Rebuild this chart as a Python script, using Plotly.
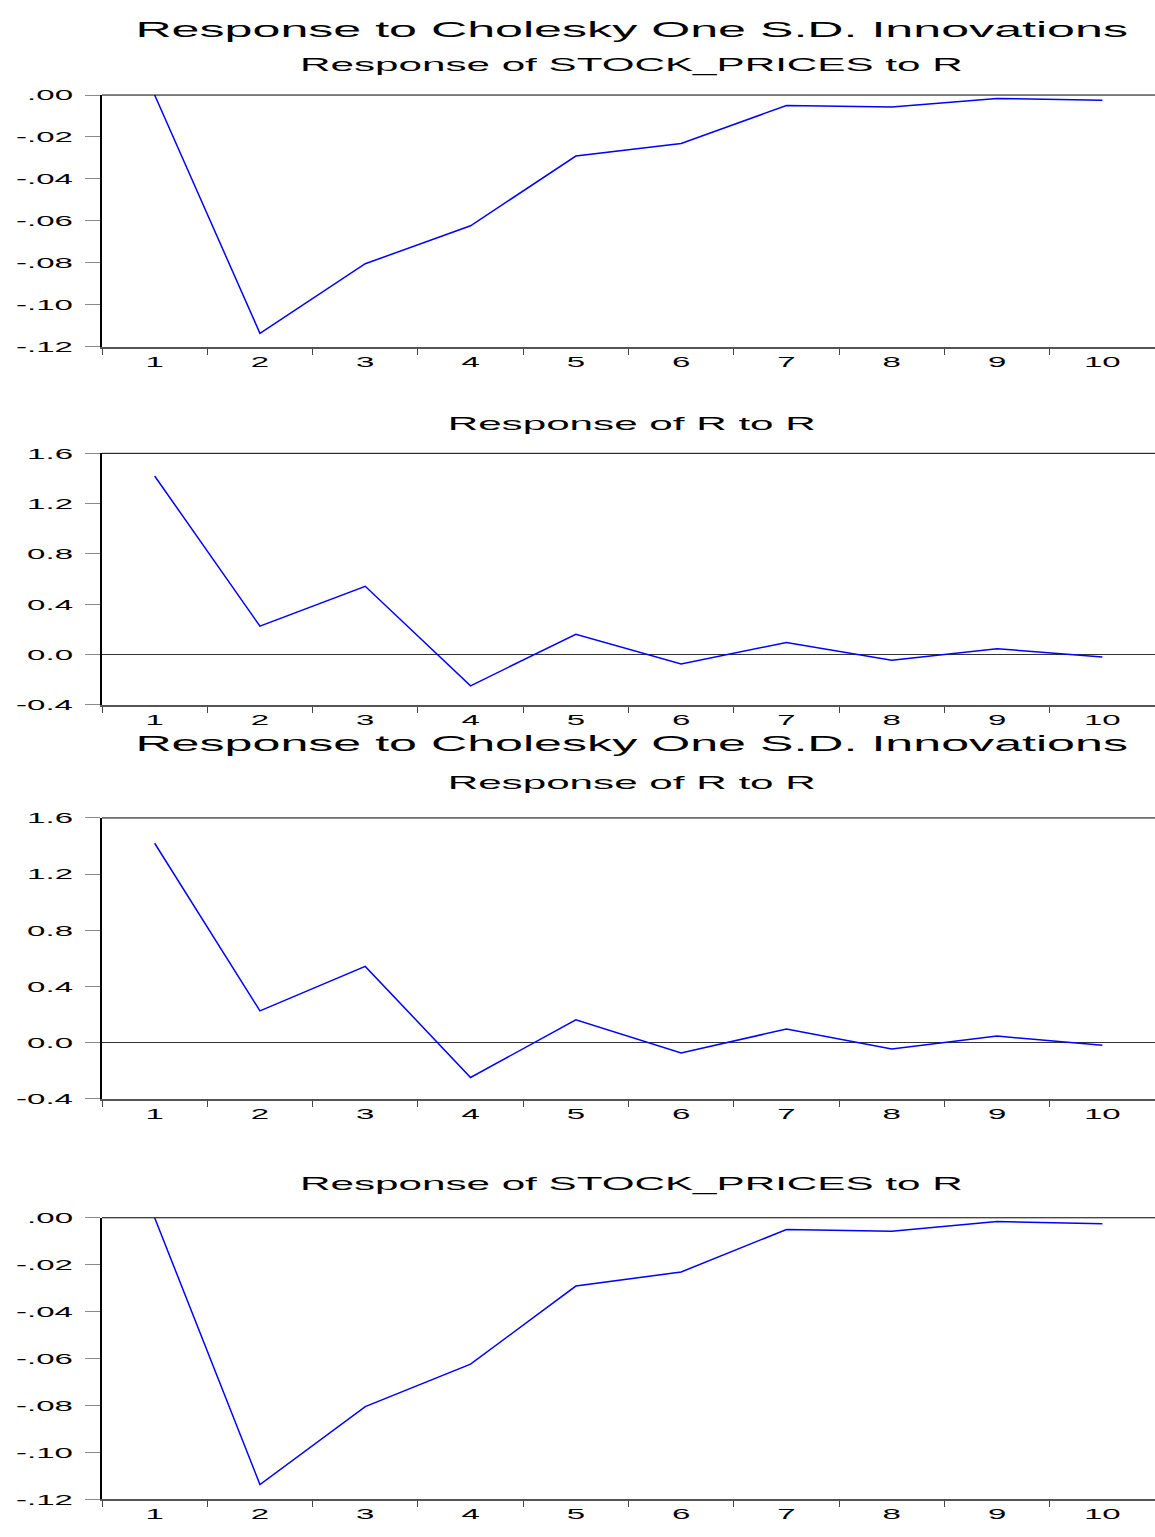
import plotly.graph_objects as go

# ---------------- data ----------------
periods = [str(i) for i in range(1, 11)]
stock_to_r = [0.000, -0.1137, -0.0805, -0.0624, -0.0291, -0.0231, -0.0050, -0.0057, -0.0016, -0.0025]
r_to_r = [1.42, 0.226, 0.543, -0.248, 0.162, -0.074, 0.097, -0.045, 0.047, -0.019]

stock_tickvals = [0.00, -0.02, -0.04, -0.06, -0.08, -0.10, -0.12]
stock_ticktext = [".00", "-.02", "-.04", "-.06", "-.08", "-.10", "-.12"]
r_tickvals = [1.6, 1.2, 0.8, 0.4, 0.0, -0.4]
r_ticktext = ["1.6", "1.2", "0.8", "0.4", "0.0", "-0.4"]

main_title = "Response to Cholesky One S.D. Innovations"
sub_stock = "Response of STOCK_PRICES to R"
sub_r = "Response of R to R"

# ---------------- layout helpers ----------------
W, H = 1155, 1537
FONT = "Liberation Sans"
TITLE_STRETCH = 2.28   # the reference's lettering is drawn horizontally stretched
TICK_STRETCH = 2.2

def fy(px):
    return 1 - px / H

x_dom = [102 / W, 1.0]
panels = [
    # series, tickvals, ticktext, range, top px, bottom px, zeroline
    (stock_to_r, stock_tickvals, stock_ticktext, [-0.12, 0.0], 87.0, 341.3, False),
    (r_to_r, r_tickvals, r_ticktext, [-0.4, 1.6], 449.3, 703.7, True),
    (r_to_r, r_tickvals, r_ticktext, [-0.4, 1.6], 818.0, 1102.0, True),
    (stock_to_r, stock_tickvals, stock_ticktext, [-0.12, 0.0], 1222.3, 1507.0, False),
]

fig = go.Figure()
layout = dict(
    width=W, height=H,
    margin=dict(l=0, r=0, t=0, b=0),
    paper_bgcolor="white", plot_bgcolor="white",
    showlegend=False,
    font=dict(family=FONT, color="black"),
)
shapes = []

for i, (ser, tv, tt, rng, top, bot, zl) in enumerate(panels, start=1):
    xa = "x" if i == 1 else f"x{i}"
    ya = "y" if i == 1 else f"y{i}"
    fig.add_trace(go.Scatter(
        x=periods, y=ser, mode="lines",
        line=dict(color="#0000FF", width=1.5),
        xaxis=xa, yaxis=ya, hoverinfo="skip",
    ))
    layout["xaxis" if i == 1 else f"xaxis{i}"] = dict(
        domain=x_dom, anchor=ya, type="category",
        range=[-0.5, 9.5], tickson="boundaries",
        ticks="outside", ticklen=6, tickwidth=1, tickcolor="#444444",
        showline=True, linecolor="#555555", linewidth=2,
        showgrid=False, zeroline=False,
        tickfont=dict(family=FONT, size=15, color="black"),
        fixedrange=True,
    )
    layout["yaxis" if i == 1 else f"yaxis{i}"] = dict(
        domain=[fy(bot), fy(top)], anchor=xa,
        range=rng, tickmode="array", tickvals=tv, ticktext=tt,
        ticks="outside", ticklen=15, tickwidth=1, tickcolor="#888888",
        ticklabelstandoff=9,
        showline=True, linecolor="black", linewidth=2,
        showgrid=False,
        zeroline=zl, zerolinecolor="#333333", zerolinewidth=1,
        tickfont=dict(family=FONT, size=15, color="black"),
        fixedrange=True,
    )
    # top border of the panel
    shapes.append(dict(
        type="line", xref=f"{xa} domain", yref=f"{ya} domain",
        x0=0, x1=1, y0=1, y1=1,
        line=dict(color="black", width=1),
    ))

layout["shapes"] = shapes

cx = 631 / W
annotations = [
    (main_title, 20.5, 22),
    (sub_stock, 57, 18.5),
    (sub_r, 419, 18.5),
    (main_title, 742.5, 22),
    (sub_r, 782, 18.5),
    (sub_stock, 1188, 18.5),
]
layout["annotations"] = [
    dict(text=t, x=cx, y=fy(py), xref="paper", yref="paper",
         xanchor="center", yanchor="middle", showarrow=False,
         font=dict(family=FONT, size=s, color="black"))
    for t, py, s in annotations
]

fig.update_layout(**layout)

post_js = """
document.body.style.margin = '0';
var gd = document.getElementById('{plot_id}');
gd.querySelectorAll('text').forEach(function (t) {
    var k = t.classList.contains('annotation-text') ? %s : %s;
    var w = t.getComputedTextLength();
    if (w > 0) {
        t.setAttribute('textLength', (w * k).toFixed(2));
        t.setAttribute('lengthAdjust', 'spacingAndGlyphs');
    }
});
""" % (TITLE_STRETCH, TICK_STRETCH)

fig.write_html("out.html", config={"staticPlot": True}, post_script=post_js)
